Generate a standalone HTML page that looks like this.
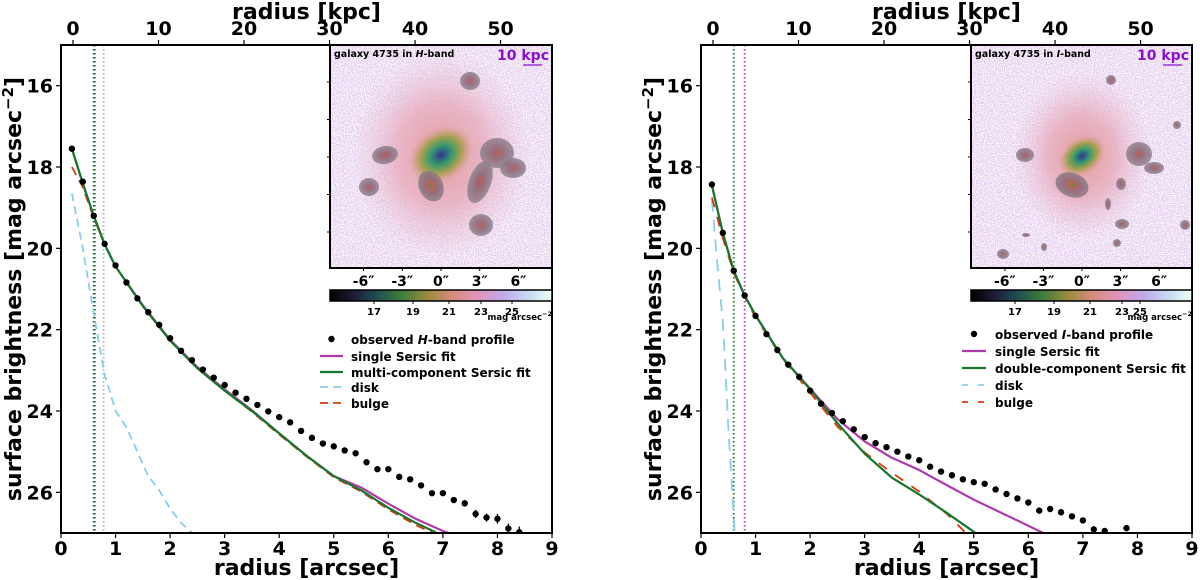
<!DOCTYPE html>
<html><head><meta charset="utf-8"><style>
html,body{margin:0;padding:0;background:#fff}
svg{display:block}
text{font-family:"DejaVu Sans","Liberation Sans",sans-serif;font-weight:bold;fill:#000}
</style></head>
<body>
<svg id="fig" width="1200" height="580" viewBox="0 0 1200 580" xmlns="http://www.w3.org/2000/svg">
<defs>
<linearGradient id="cmap" x1="0" x2="1" y1="0" y2="0">
<stop offset="0" stop-color="#000"/><stop offset="0.1" stop-color="#1c1a34"/><stop offset="0.2" stop-color="#1d4a52"/>
<stop offset="0.32" stop-color="#3c7c3c"/><stop offset="0.44" stop-color="#9c8a3e"/><stop offset="0.55" stop-color="#d48c7c"/>
<stop offset="0.66" stop-color="#e094b8"/><stop offset="0.78" stop-color="#c0a8ea"/><stop offset="0.9" stop-color="#c4def0"/><stop offset="1" stop-color="#f2fff6"/>
</linearGradient>
<radialGradient id="glowL"><stop offset="0" stop-color="#e49a9a" stop-opacity="1"/><stop offset="0.5" stop-color="#e6a8b8" stop-opacity="0.75"/><stop offset="1" stop-color="#e8c0d8" stop-opacity="0"/></radialGradient>
<radialGradient id="core"><stop offset="0" stop-color="#4a2a7a"/><stop offset="0.12" stop-color="#2a5a8a"/><stop offset="0.35" stop-color="#3c9a6a"/><stop offset="0.65" stop-color="#a8a050"/><stop offset="1" stop-color="#d89a8a" stop-opacity="0"/></radialGradient>
<radialGradient id="blob"><stop offset="0" stop-color="#2a8a3a"/><stop offset="0.2" stop-color="#b05a3a"/><stop offset="0.45" stop-color="#8a6070"/><stop offset="1" stop-color="#8a7e84"/></radialGradient>
<radialGradient id="blobR"><stop offset="0" stop-color="#b04a3a"/><stop offset="0.35" stop-color="#8a6070"/><stop offset="1" stop-color="#8e8690"/></radialGradient>
<filter id="speck" x="0" y="0" width="1" height="1">
<feTurbulence type="fractalNoise" baseFrequency="0.9" numOctaves="1" seed="3"/>
<feColorMatrix type="matrix" values="0 0 0 0 0.74  0 0 0 0 0.58  0 0 0 0 0.88  6 0 0 0 -2.6"/>
</filter>
<filter id="speckW" x="0" y="0" width="1" height="1">
<feTurbulence type="fractalNoise" baseFrequency="0.9" numOctaves="1" seed="11"/>
<feColorMatrix type="matrix" values="0 0 0 0 1  0 0 0 0 1  0 0 0 0 1  6 0 0 0 -2.8"/>
</filter>
<clipPath id="clipL"><rect x="61" y="45" width="491" height="488"/></clipPath>
<clipPath id="clipR"><rect x="701" y="45" width="491" height="488"/></clipPath>
<clipPath id="clipIL"><rect x="330" y="45" width="222" height="223"/></clipPath>
<clipPath id="clipIR"><rect x="971" y="45" width="221" height="223"/></clipPath>
</defs>
<g id="root"></g>
</svg>
<script>
// ---------- data: left panel (H-band) ----------
const obsR_L = [0.2,0.4,0.6,0.8,1.0,1.2,1.4,1.6,1.8,2.0,2.2,2.4,2.6,2.8,3.0,3.2,3.4,3.6,3.8,4.0,4.2,4.4,4.6,4.8,5.0,5.2,5.4,5.6,5.8,6.0,6.2,6.4,6.6,6.8,7.0,7.2,7.4,7.6,7.8,8.0,8.2,8.4];
const obsMu_L = [17.55,18.36,19.2,19.89,20.42,20.84,21.23,21.57,21.88,22.21,22.52,22.75,22.98,23.18,23.36,23.55,23.7,23.85,24.01,24.15,24.28,24.49,24.66,24.8,24.87,24.97,25.04,25.26,25.43,25.43,25.62,25.68,25.83,26.02,26.02,26.19,26.27,26.53,26.62,26.65,26.89,26.98];
const obsErr_L = [0.02,0.03,0.03,0.02,0.02,0.02,0.02,0.02,0.02,0.02,0.02,0.02,0.02,0.02,0.02,0.02,0.02,0.02,0.02,0.02,0.02,0.02,0.02,0.02,0.02,0.02,0.02,0.03,0.03,0.03,0.04,0.05,0.05,0.05,0.06,0.07,0.08,0.1,0.1,0.12,0.12,0.14];
const fitR_L = [0.2,0.4,0.6,0.8,1.0,1.5,2.0,2.5,3.0,3.5,4.0,4.5,5.0,5.5,6.0,6.5,7.0,7.5];
const single_L = [17.55,18.4,19.2,19.9,20.45,21.4,22.25,22.92,23.47,23.98,24.55,25.1,25.6,25.88,26.28,26.65,26.95,27.2];
const multi_L = [17.55,18.4,19.2,19.9,20.45,21.42,22.27,22.95,23.5,24.0,24.55,25.1,25.6,25.95,26.38,26.75,27.07,27.4];
const bulgeR_L = [0.2,0.4,0.6,0.8,1.0,1.5,2.0,2.5,3.0,3.5,4.0,4.5,5.0,5.5,6.0,6.5,7.0];
const bulge_L = [18.0,18.5,19.25,19.9,20.45,21.42,22.27,22.95,23.5,24.02,24.58,25.12,25.63,25.98,26.42,26.8,27.12];
const diskR_L = [0.2,0.4,0.6,0.8,1.0,1.2,1.4,1.6,1.8,2.0,2.2,2.45];
const disk_L = [18.65,20.0,21.6,23.1,24.0,24.4,25.0,25.6,25.95,26.4,26.75,27.05];
const vlines_L = [0.6,0.62,0.78];
// ---------- data: right panel (I-band) ----------
const obsR_R = [0.2,0.4,0.6,0.8,1.0,1.2,1.4,1.6,1.8,2.0,2.2,2.4,2.6,2.8,3.0,3.2,3.4,3.6,3.8,4.0,4.2,4.4,4.6,4.8,5.0,5.2,5.4,5.6,5.8,6.0,6.2,6.4,6.6,6.8,7.0,7.2,7.4,7.8];
const obsMu_R = [18.43,19.62,20.55,21.16,21.66,22.11,22.5,22.86,23.16,23.5,23.82,24.05,24.25,24.45,24.64,24.79,24.89,25.0,25.12,25.21,25.37,25.49,25.58,25.68,25.75,25.79,25.93,26.04,26.15,26.25,26.45,26.41,26.49,26.59,26.69,26.91,26.95,26.88];
const fitR_R = [0.2,0.4,0.6,0.8,1.0,1.5,2.0,2.5,3.0,3.5,4.0,4.2,4.5,5.0,5.5,6.0,6.5];
const single_R = [18.45,19.62,20.55,21.16,21.65,22.7,23.45,24.2,24.75,25.15,25.45,25.6,25.82,26.18,26.5,26.82,27.15];
const double_R = [18.45,19.62,20.55,21.16,21.65,22.7,23.47,24.3,25.05,25.64,26.05,26.23,26.5,26.97,27.4,27.8,28.2];
const bulge_R = [18.75,19.75,20.6,21.2,21.7,22.72,23.55,24.38,25.02,25.52,25.98,26.2,26.52,27.2,27.7,28.2,28.6];
const diskR_R = [0.2,0.3,0.4,0.45,0.5,0.56,0.62];
const disk_R = [18.8,20.4,21.8,23.0,24.4,25.7,27.05];
// ---------- axis ticks ----------
const xTicks = [0,1,2,3,4,5,6,7,8,9];
const yTicks = [16,18,20,22,24,26];
const kpcTicks = [0,10,20,30,40,50];
const insetTicks = ["-6″","-3″","0″","3″","6″"];
const insetTickVals = [-6,-3,0,3,6];
const cbTicks = ["17","19","21","23","25"];

const NS="http://www.w3.org/2000/svg";
const root=document.getElementById('root');
function mk(tag,attrs,parent){const e=document.createElementNS(NS,tag);for(const k in attrs)e.setAttribute(k,attrs[k]);(parent||root).appendChild(e);return e;}

function panel(P){
  const g=mk('g',{});
  
  
  const X=v=>P.x0+(v-0)/9*(P.x1-P.x0);
  const Y=v=>P.y0+(v-15)/12*(P.y1-P.y0);
  const K=k=>X(0.22+k/6.38);
  const cg=mk('g',{'clip-path':`url(#${P.clip})`},g);
  P.vl.forEach((v,i)=>{const l=mk('line',{x1:X(v),x2:X(v),y1:P.y0,y2:P.y1,stroke:P.vlc[i],'stroke-width':1.8,'stroke-dasharray':'1.5 2.5'},cg);
    
    });
  const path=(xs,ys)=>xs.map((x,i)=>(i?'L':'M')+X(x).toFixed(1)+','+Y(ys[i]).toFixed(1)).join('');
  const d=mk('path',{d:path(P.diskR,P.disk),fill:'none',stroke:'#87ceeb','stroke-width':1.8,'stroke-dasharray':P.diskDash},cg);
  
  
  const b=mk('path',{d:path(P.bulgeR,P.bulge),fill:'none',stroke:'#d93a12','stroke-width':1.8,'stroke-dasharray':P.bulgeDash},cg);
  
  
  const s=mk('path',{d:path(P.fitR,P.single),fill:'none',stroke:'#b03aa8','stroke-width':2.2},cg);
  
  
  const m=mk('path',{d:path(P.fitR,P.multi),fill:'none',stroke:'#16782a','stroke-width':2.2},cg);
  
  
  P.obsR.forEach((r,i)=>{
    const e=P.err?P.err[i]:0.02;
    if(e>0.04){const eb=mk('line',{x1:X(r),x2:X(r),y1:Y(P.obs[i]-e),y2:Y(P.obs[i]+e),stroke:'#000','stroke-width':1.3},cg);
      
      }
    const c=mk('circle',{cx:X(r),cy:Y(P.obs[i]),r:3.2,fill:'#000'},cg);
    
    
  });
  const fr=mk('rect',{x:P.x0,y:P.y0,width:P.x1-P.x0,height:P.y1-P.y0,fill:'none',stroke:'#000','stroke-width':2},g);
  
  
  xTicks.forEach(t=>{mk('line',{x1:X(t),x2:X(t),y1:P.y1,y2:P.y1+5,stroke:'#000','stroke-width':1.2},g);
    const tx=mk('text',{x:X(t),y:P.y1+22,'text-anchor':'middle','font-size':19},g);tx.textContent=t;
    
    });
  yTicks.forEach(t=>{mk('line',{x1:P.x0-5,x2:P.x0,y1:Y(t),y2:Y(t),stroke:'#000','stroke-width':1.2},g);
    const tx=mk('text',{x:P.x0-8,y:Y(t)+7,'text-anchor':'end','font-size':19},g);tx.textContent=t;
    
    });
  kpcTicks.forEach(t=>{mk('line',{x1:K(t),x2:K(t),y1:P.y0-5,y2:P.y0,stroke:'#000','stroke-width':1.2},g);
    const tx=mk('text',{x:K(t),y:P.y0-10,'text-anchor':'middle','font-size':19},g);tx.textContent=t;
    
    });
  const xl=mk('text',{x:(P.x0+P.x1)/2,y:575,'text-anchor':'middle','font-size':22},g);xl.textContent='radius [arcsec]';
  
  
  const tl=mk('text',{x:(P.x0+P.x1)/2,y:19,'text-anchor':'middle','font-size':22},g);tl.textContent='radius [kpc]';
  
  
  const yl=mk('text',{x:0,y:0,'text-anchor':'middle','font-size':22,transform:`translate(${P.x0-40},289) rotate(-90)`},g);
  yl.innerHTML='surface brightness [mag arcsec<tspan dy="-8" font-size="15">−2</tspan><tspan dy="8">]</tspan>';
  
  

  const ig=mk('g',{},g);
  
  
  const ix0=P.ix0, ix1=P.x1, iy0=P.y0, iy1=268;
  const icg=mk('g',{'clip-path':`url(#${P.iclip})`},ig);
  mk('rect',{x:ix0,y:iy0,width:ix1-ix0,height:iy1-iy0,fill:'#eedcee'},icg);
  mk('rect',{x:ix0,y:iy0,width:ix1-ix0,height:iy1-iy0,fill:'#fff',filter:'url(#speck)'},icg);
  mk('rect',{x:ix0,y:iy0,width:ix1-ix0,height:iy1-iy0,fill:'#fff',filter:'url(#speckW)'},icg);
  mk('ellipse',{cx:P.cx,cy:P.cy,rx:P.glow[0],ry:P.glow[1],fill:'url(#glowL)'},icg);
  mk('ellipse',{cx:P.cx,cy:P.cy,rx:P.corer[0],ry:P.corer[1],fill:'url(#core)',transform:`rotate(-35 ${P.cx} ${P.cy})`},icg);
  P.blobs.forEach(bb=>{const e=mk('ellipse',{cx:bb[0],cy:bb[1],rx:bb[2],ry:bb[3],fill:bb[5]?'url(#blob)':'url(#blobR)',opacity:0.85,transform:`rotate(${bb[4]} ${bb[0]} ${bb[1]})`},icg);
    
    });
  mk('rect',{x:ix0,y:iy0,width:ix1-ix0,height:iy1-iy0,fill:'none',stroke:'#000','stroke-width':2},ig);
  const ttl=mk('text',{x:ix0+4,y:iy0+12,'font-size':9.5},ig);ttl.innerHTML=`galaxy 4735 in <tspan font-style="italic">${P.band}</tspan>-band`;
  
  
  const sb=mk('text',{x:ix1-3,y:iy0+15,'text-anchor':'end','font-size':14,style:'fill:#8a10d0'},ig);sb.textContent='10 kpc';
  
  
  mk('line',{x1:ix1-29,x2:ix1-10,y1:iy0+20,y2:iy0+20,stroke:'#8a10d0','stroke-width':1.2},ig);
  [0,1,2,3,4].forEach(i=>mk('line',{x1:ix0-3,x2:ix0,y1:iy0+37+i*37.5,y2:iy0+37+i*37.5,stroke:'#000','stroke-width':1},ig));
  const sc=(ix1-ix0)/2/8.6;
  insetTickVals.forEach((v,i)=>{const xx=P.cx+v*sc;mk('line',{x1:xx,x2:xx,y1:iy1,y2:iy1+3,stroke:'#000','stroke-width':1},ig);
    const t=mk('text',{x:xx,y:iy1+18,'text-anchor':'middle','font-size':14},ig);t.textContent=insetTicks[i];
    
    });
  const cb=mk('rect',{x:ix0,y:290,width:ix1-ix0,height:11,fill:'url(#cmap)',stroke:'#000','stroke-width':1.5},g);
  
  
  cbTicks.forEach((t,i)=>{const xx=P.cbx[i];mk('line',{x1:xx,x2:xx,y1:301,y2:304,stroke:'#000','stroke-width':1},g);
    const tt=mk('text',{x:xx,y:315,'text-anchor':'middle','font-size':10},g);tt.textContent=t;
    
    });
  const cu=mk('text',{x:ix1,y:320,'text-anchor':'end','font-size':8.5},g);cu.innerHTML='mag arcsec<tspan dy="-4" font-size="6.5">−2</tspan>';
  
  
  const lg=mk('g',{},g);
  
  
  const rows=P.legRows;
  const labels=[`observed <tspan font-style="italic">${P.band}</tspan>-band profile`,'single Sersic fit',P.multiLabel,'disk','bulge'];
  labels.forEach((lab,i)=>{const y=rows[i];
    if(i===0) mk('circle',{cx:(P.lx0+P.lx1)/2,cy:y,r:3.2,fill:'#000'},lg);
    else if(i===1) mk('line',{x1:P.lx0,x2:P.lx1,y1:y,y2:y,stroke:'#b03aa8','stroke-width':2.2},lg);
    else if(i===2) mk('line',{x1:P.lx0,x2:P.lx1,y1:y,y2:y,stroke:'#16782a','stroke-width':2.2},lg);
    else if(i===3) mk('line',{x1:P.lx0,x2:P.lx1,y1:y,y2:y,stroke:'#87ceeb','stroke-width':1.8,'stroke-dasharray':P.legDash},lg);
    else mk('line',{x1:P.lx0,x2:P.lx1,y1:y,y2:y,stroke:'#d93a12','stroke-width':1.8,'stroke-dasharray':P.legDash},lg);
    const t=mk('text',{x:P.ltx,y:y+5,'font-size':12},lg);t.innerHTML=lab;
    
    });
}

panel({name:'h-band-panel',x0:61,x1:552,y0:45,y1:533,clip:'clipL',iclip:'clipIL',band:'H',
  vl:vlines_L,vlc:['#6a2a80','#16782a','#b0b0b0'],
  obsR:obsR_L,obs:obsMu_L,err:obsErr_L,fitR:fitR_L,single:single_L,multi:multi_L,bulgeR:bulgeR_L,bulge:bulge_L,diskR:diskR_L,disk:disk_L,diskDash:'8 5',bulgeDash:'9 6',
  ix0:330,cx:441,cy:155,glow:[90,105],corer:[34,26],
  blobs:[[470,81,10,9,0,0],[385,155,13,9,-10,0],[369,187,10,9,0,0],[431,186,12,16,-25,1],[497,153,17,15,0,0],[513,168,13,10,0,0],[480,182,11,22,20,0],[481,225,12,11,0,0]],
  cbx:[374,413,449,481,512],legRows:[339,356,372,387,403],lx0:320,lx1:343,ltx:351,legDash:'8 5',multiLabel:'multi-component Sersic fit'});

panel({name:'i-band-panel',x0:701,x1:1192,y0:45,y1:533,clip:'clipR',iclip:'clipIR',band:'I',
  vl:[0.6,0.8],vlc:['#16782a','#b03aa8'],
  obsR:obsR_R,obs:obsMu_R,err:null,fitR:fitR_R,single:single_R,multi:double_R,bulgeR:fitR_R,bulge:bulge_R,diskR:diskR_R,disk:disk_R,diskDash:'12 8',bulgeDash:'10 10',
  ix0:971,cx:1082,cy:156,glow:[70,85],corer:[25,18],
  blobs:[[1111,80,5,5,0,0],[1177,125,4,4,0,0],[1025,155,9,7,0,0],[1139,154,13,12,0,0],[1154,168,10,6,0,0],[1072,185,17,12,20,1],[1121,184,5,6,0,0],[1108,204,3,6,0,0],[1122,224,7,5,0,0],[1185,225,5,5,0,0],[1026,235,4,2,0,0],[1044,247,3,4,0,0],[1117,243,4,4,0,0],[1003,254,6,5,0,0]],
  cbx:[1015,1054,1090,1122,1140],legRows:[334,351,368,385,402],lx0:962,lx1:986,ltx:995,legDash:'6 10',multiLabel:'double-component Sersic fit'});
</script>
</body></html>
